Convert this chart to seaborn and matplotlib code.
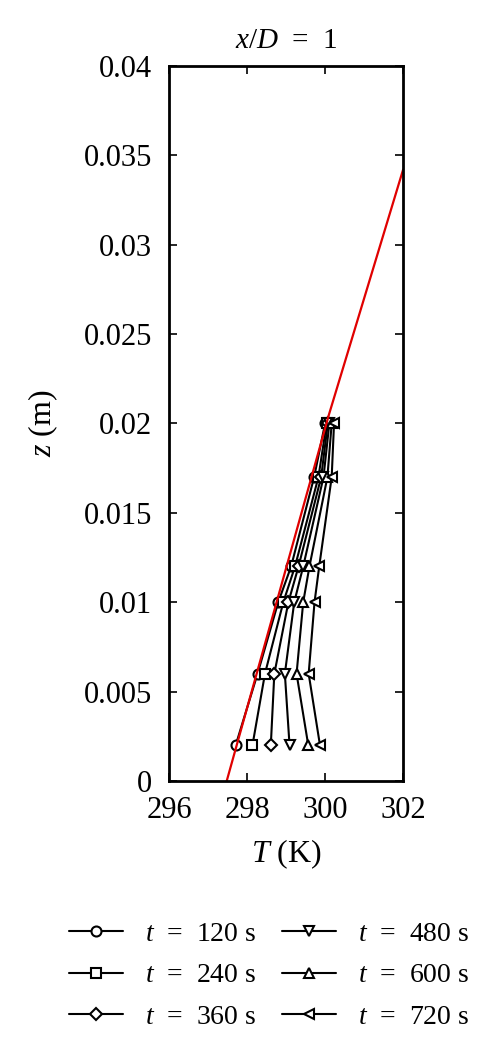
import numpy as np
import pandas as pd
import matplotlib
matplotlib.use('Agg')
import matplotlib.pyplot as plt
from matplotlib.ticker import FuncFormatter
import seaborn as sns

# heights of the probe points (m)
z_levels = [0.002, 0.006, 0.010, 0.012, 0.017, 0.020]

# temperature profiles at x/D = 1 for each time
times = [120, 240, 360, 480, 600, 720]
T_120 = [297.71, 298.27, 298.80, 299.13, 299.72, 300.00]
T_240 = [298.14, 298.46, 298.93, 299.23, 299.83, 300.04]
T_360 = [298.61, 298.70, 299.06, 299.32, 299.90, 300.07]
T_480 = [299.09, 298.97, 299.21, 299.44, 299.96, 300.11]
T_600 = [299.57, 299.27, 299.44, 299.60, 300.06, 300.17]
T_720 = [299.87, 299.58, 299.73, 299.85, 300.17, 300.23]
markers = ['o', 's', 'D', 'v', '^', '<']

# initial (red) profile
T_init = [297.48, 300.10, 302.0]
z_init = [0.0, 0.0205, 0.0342]

sns.set_style('ticks')
plt.rcParams['font.family'] = ['Liberation Serif', 'DejaVu Serif']
plt.rcParams['mathtext.fontset'] = 'custom'
plt.rcParams['mathtext.rm'] = 'Liberation Serif'
plt.rcParams['mathtext.it'] = 'Liberation Serif:italic'
# plain black axes and text
for k in ['text.color', 'axes.labelcolor', 'axes.edgecolor',
          'xtick.color', 'ytick.color']:
    plt.rcParams[k] = 'black'

profiles = [T_120, T_240, T_360, T_480, T_600, T_720]
rows = []
for t, T in zip(times, profiles):
    for zz, tt in zip(z_levels, T):
        rows.append([t, tt, zz])
df = pd.DataFrame(rows, columns=['t', 'T', 'z'])

fig = plt.figure(figsize=(4.94, 10.57), dpi=100)
ax = fig.add_axes([0.342, 0.2611, 0.474, 0.6765])

handles = []
for t, m in zip(times, markers):
    sub = df[df['t'] == t]
    ms = 6.3 if m == 'D' else 7.2
    sns.lineplot(data=sub, x='T', y='z', sort=False, estimator=None, ax=ax,
                 color='black', linewidth=1.5, marker=m, markersize=ms,
                 markerfacecolor='white', markeredgecolor='black',
                 markeredgewidth=1.5, label=f'$t$  =  {t} s')
    handles.append(ax.lines[-1])

sns.lineplot(x=T_init, y=z_init, sort=False, estimator=None, ax=ax,
             color='#e00000', linewidth=1.6)

ax.set_xlim(296, 302)
ax.set_ylim(0, 0.04)
ax.set_xticks([296, 298, 300, 302])
ax.set_yticks(np.arange(0, 0.0401, 0.005))
ax.yaxis.set_major_formatter(FuncFormatter(lambda v, p: f'{v:g}'))
ax.tick_params(direction='in', top=True, right=True, length=6, width=1.2,
               labelsize=22)
ax.tick_params(axis='x', pad=11)
ax.tick_params(axis='y', pad=12)
for s in ax.spines.values():
    s.set_linewidth(2.0)

ax.set_xlabel('$T$ (K)', fontsize=23, labelpad=9)
ax.set_ylabel('$z$ (m)', fontsize=23, labelpad=17)
ax.set_title('$x/D$  =  1', fontsize=21, pad=13)

ax.get_legend().remove()
fig.legend(handles=handles, labels=[h.get_label() for h in handles],
           loc='center', bbox_to_anchor=(0.545, 0.077), ncol=2, frameon=False,
           fontsize=20, handlelength=1.95, columnspacing=0.9, handletextpad=0.8,
           labelspacing=0.58)

fig.savefig('out.png', dpi=100)
